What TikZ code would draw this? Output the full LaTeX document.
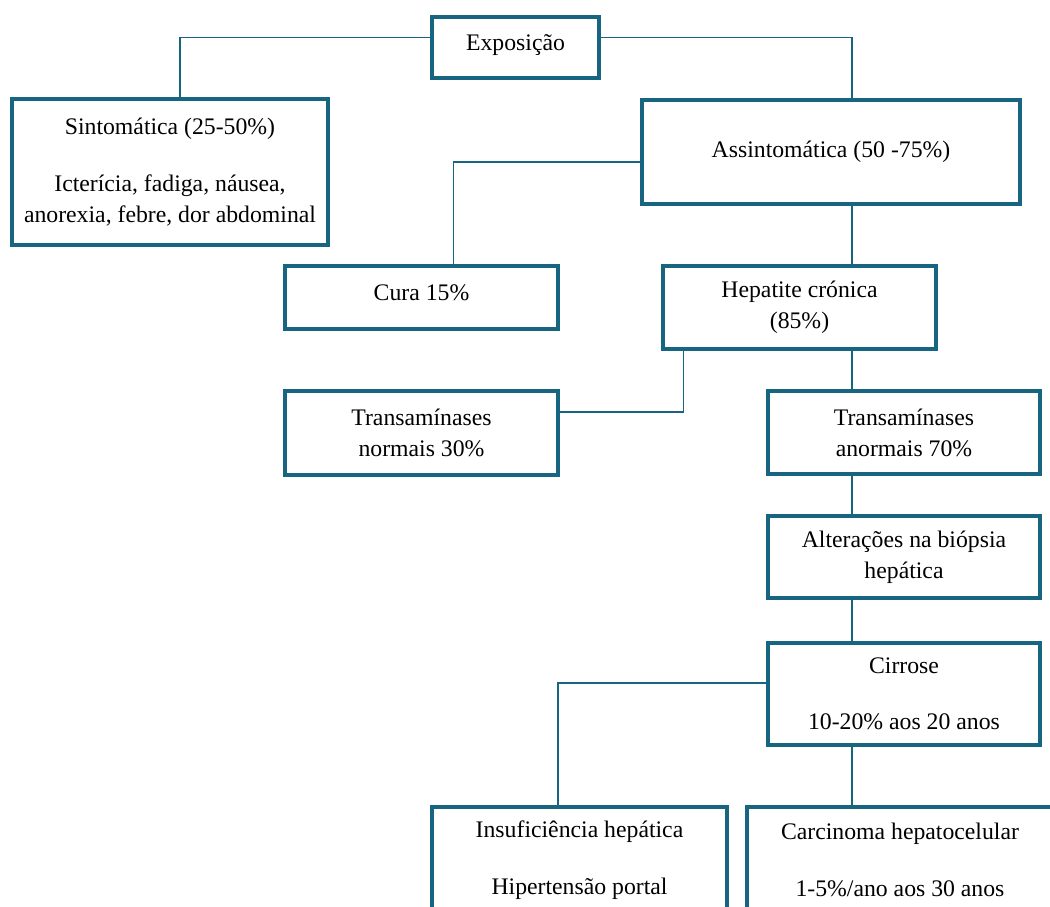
\documentclass[tikz,border=0pt]{standalone}
\usepackage{fontspec}
\setmainfont{Liberation Serif}
\definecolor{teal}{RGB}{23,101,128}
\tikzset{
	box/.style={draw=teal, line width=3pt, rectangle, inner sep=0pt, align=center, font=\fontsize{17.8}{23.25}\selectfont, text=black},
	link/.style={draw=teal, line width=1.4pt}
}
\begin{document}
\begin{tikzpicture}[x=0.75pt, y=-0.75pt]
		\clip (0,0) rectangle (1050,907);
		\fill[white] (0,0) rectangle (1050,907);
		\coordinate (spine) at (852,0);
		
		\node[box, minimum width=125.25pt, minimum height=45.75pt, text depth=7pt] (expo) at (515.5,47.5) {Exposição};
		\node[box, minimum width=237pt, minimum height=109.5pt] (sint) at (170,172) {Sintomática (25-50\%)\\[19pt] Icterícia, fadiga, náusea,\\ anorexia, febre, dor abdominal};
		\node[box, minimum width=283.5pt, minimum height=78pt] (asym) at (831,152) {Assintomática (50 -75\%)};
		
		\node[box, minimum width=204.75pt, minimum height=47.25pt, text depth=7pt] (cura) at (421.5,297.5) {Cura 15\%};
		\node[box, minimum width=204.75pt, minimum height=62.25pt] (hep) at (799.5,307.5) {Hepatite crónica\\ (85\%)};
		
		\node[box, minimum width=204.75pt, minimum height=63pt] (tnorm) at (421.5,433) {Transamínases\\ normais 30\%};
		\node[box, minimum width=204pt, minimum height=62.25pt] (tanorm) at (904,432.5) {Transamínases\\ anormais 70\%};
		\node[box, minimum width=204pt, minimum height=61.5pt] (biop) at (904,557) {Alterações na biópsia\\ hepática};
		\node[box, minimum width=204pt, minimum height=76.5pt] (cirr) at (904,694) {Cirrose\\[19pt] 10-20\% aos 20 anos};
		
		\node[box, minimum width=221.25pt, minimum height=79.5pt] (insuf) at (579.5,860) {Insuficiência hepática\\[19pt] Hipertensão portal};
		\node[box, minimum width=229.5pt, minimum height=79.5pt] (carc) at (900,860) {Carcinoma hepatocelular\\[19pt] 1-5\%/ano aos 30 anos};
		
		% connectors
		\draw[link] ([yshift=7.5pt]expo.west) -| ([xshift=7.5pt]sint.north);
		\draw[link] ([yshift=7.5pt]expo.east) -| (asym.north -| spine);
		\draw[link] ([yshift=-7.5pt]asym.west) -| ([xshift=24pt]cura.north);
		\draw[link, line width=0.9pt] (asym.south -| spine) -- (hep.north -| spine);
		\draw[link] ([xshift=-87pt]hep.south) |- ([yshift=16pt]tnorm.east);
		\draw[link] (hep.south -| spine) -- (tanorm.north -| spine);
		\draw[link] (tanorm.south -| spine) -- (biop.north -| spine);
		\draw[link] (biop.south -| spine) -- (cirr.north -| spine);
		\draw[link] ([yshift=8.5pt]cirr.west) -| ([xshift=-16pt]insuf.north);
		\draw[link] (cirr.south -| spine) -- (carc.north -| spine);
	\end{tikzpicture}
\end{document}
